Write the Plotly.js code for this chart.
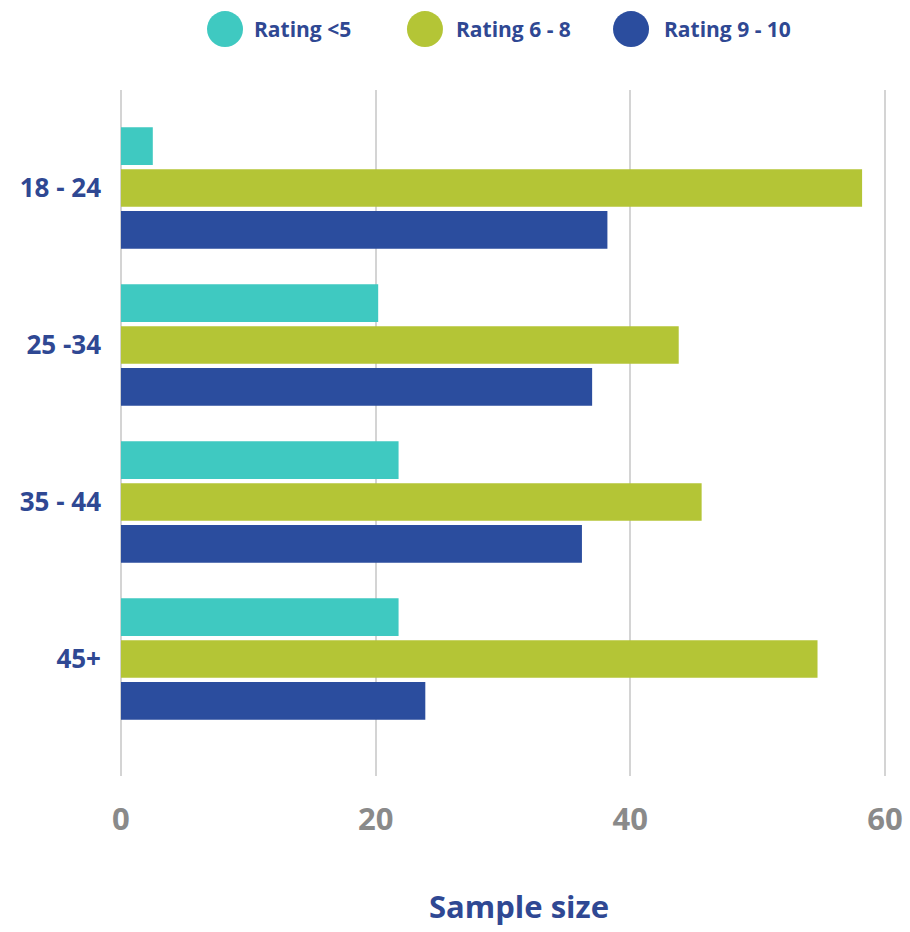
<!DOCTYPE html>
<html>
<head>
<meta charset="utf-8">
<script src="https://cdn.plot.ly/plotly-3.0.1.min.js"></script>
<style>html,body{margin:0;padding:0;background:#fff;}#chart{width:910px;height:932px;}</style>
</head>
<body>
<div id="chart"></div>
<script>
// Data
var categories = ['18 - 24', '25 -34', '35 - 44', '45+'];
var seriesNames = ['Rating <5', 'Rating 6 - 8', 'Rating 9 - 10'];
var ratingLow = [2.5, 20.2, 21.8, 21.8];
var ratingMid = [58.2, 43.8, 45.6, 54.7];
var ratingHigh = [38.2, 37.0, 36.2, 23.9];
var xTickVals = [0, 20, 40, 60];
var xTickText = ['0', '20', '40', '60'];
var xAxisTitle = 'Sample size';

// Styles
var colors = ['#3fc9c1', '#b4c536', '#2b4d9e'];
var textBlue = '#2f4893';
var fontFam = '"Open Sans", "DejaVu Sans", sans-serif';

var seriesValues = [ratingLow, ratingMid, ratingHigh];
var traces = seriesValues.map(function (vals, i) {
  return {
    type: 'bar',
    orientation: 'h',
    name: seriesNames[i],
    y: categories,
    x: vals,
    marker: {color: colors[i], line: {width: 0}},
    showlegend: false,
    hoverinfo: 'x+name'
  };
});

// custom legend (large circles) in paper coordinates
var legendCircleX = [0.1394, 0.3951, 0.6586];
var legendTextX = [0.1739, 0.4322, 0.6982];
var legendY = 1.0889;
var shapes = seriesNames.map(function (n, i) {
  return {
    type: 'circle', xref: 'paper', yref: 'paper',
    xsizemode: 'pixel', ysizemode: 'pixel',
    xanchor: legendCircleX[i], yanchor: legendY,
    x0: -18, x1: 18, y0: -18, y1: 18,
    fillcolor: colors[i], line: {width: 0}
  };
});
var annotations = seriesNames.map(function (n, i) {
  return {
    xref: 'paper', yref: 'paper', x: legendTextX[i], y: legendY,
    xanchor: 'left', yanchor: 'middle', showarrow: false,
    text: '<b>' + n.replace('<', '&lt;') + '</b>',
    font: {family: fontFam, size: 21, color: textBlue}
  };
});
annotations.push({
  xref: 'paper', yref: 'paper', x: 0.515, y: -0.19,
  xanchor: 'center', yanchor: 'middle', showarrow: false,
  text: '<b>' + xAxisTitle + '</b>',
  font: {family: fontFam, size: 31, color: textBlue}
});

var layout = {
  width: 910, height: 932,
  margin: {l: 116, r: 12, t: 90, b: 156},
  paper_bgcolor: '#ffffff', plot_bgcolor: '#ffffff',
  barmode: 'group',
  bargap: 0.2,
  bargroupgap: 0.1,
  showlegend: false,
  xaxis: {
    range: [-0.39, 61.02],
    tickvals: xTickVals, ticktext: xTickText,
    showgrid: true, gridcolor: '#d4d4d4', gridwidth: 2,
    zeroline: true, zerolinecolor: '#d4d4d4', zerolinewidth: 2,
    showline: false, ticks: '',
    ticklabelstandoff: 22,
    tickfont: {family: fontFam, size: 31, color: '#8a8a8a', weight: 'bold'}
  },
  yaxis: {
    type: 'category',
    range: [3.745, -0.624],
    showgrid: false, zeroline: false, showline: false, ticks: '',
    ticklabelstandoff: 14,
    tickfont: {family: fontFam, size: 26, color: textBlue, weight: 'bold'}
  },
  shapes: shapes,
  annotations: annotations,
  font: {family: fontFam}
};

Plotly.newPlot('chart', traces, layout, {displayModeBar: false, staticPlot: true});
</script>
</body>
</html>
